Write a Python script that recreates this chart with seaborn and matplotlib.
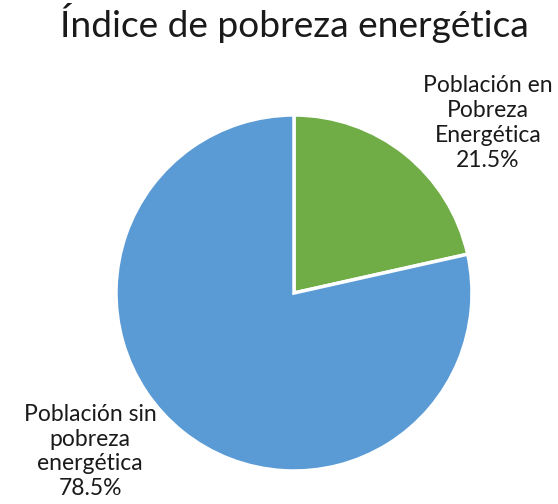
import matplotlib.pyplot as plt
import seaborn as sns

# datos
categorias = ['Población en\nPobreza\nEnergética', 'Población sin\npobreza\nenergética']
porcentajes = [21.5, 78.5]
colores = ['#70AD47', '#5B9BD5']

sns.set_theme(style='white')
plt.rcParams['font.family'] = ['Lato', 'DejaVu Sans']

fig = plt.figure(figsize=(5.58, 5.04), dpi=100)
ax = fig.add_axes([(294 - 178) / 558, (504 - 293 - 178) / 504, 356 / 558, 356 / 504])

ax.pie(porcentajes, colors=colores, startangle=90, counterclock=False, radius=1,
       wedgeprops=dict(edgecolor='white', linewidth=2.5))
ax.set_xlim(-1, 1)
ax.set_ylim(-1, 1)
ax.set_aspect('equal')
ax.axis('off')

# etiquetas fuera del pastel
pos = [(1.09, 0.955), (-1.146, -0.89)]
for (x, y), cat, p in zip(pos, categorias, porcentajes):
    ax.text(x, y, f'{cat}\n{p}%', ha='center', va='center', fontsize=16.5,
            color='#1a1a1a', linespacing=1.22, clip_on=False)

fig.suptitle('Índice de pobreza energética', fontsize=26.7, x=294 / 558, y=0.995,
             va='top', color='#1a1a1a')

fig.savefig('out.png', dpi=100)
